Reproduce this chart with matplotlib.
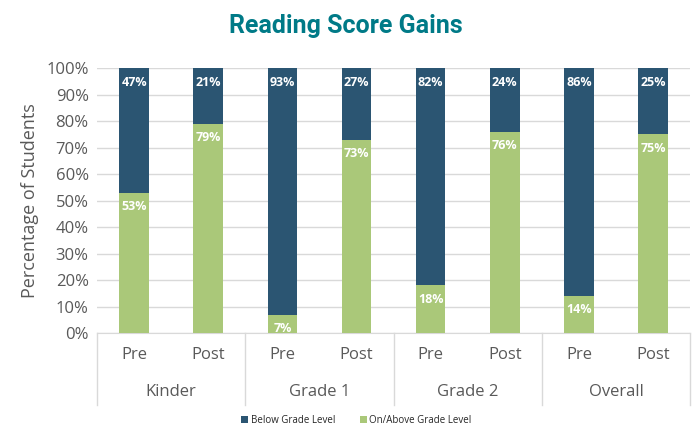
import matplotlib.pyplot as plt
import numpy as np

groups = ["Kinder", "Grade 1", "Grade 2", "Overall"]
phases = ["Pre", "Post"]
on_above = [53, 79, 7, 73, 18, 76, 14, 75]
below = [47, 21, 93, 27, 82, 24, 86, 25]

dark = "#2B5572"
green = "#AAC879"
grey_txt = "#595959"
grid_c = "#D9D9D9"

plt.rcParams["font.family"] = ["Open Sans", "DejaVu Sans"]

fig = plt.figure(figsize=(6.95, 4.26), dpi=100)
ax = fig.add_axes([0.1396, 0.218, 0.8534, 0.622])

x = np.arange(len(on_above))
w = 0.4
b1 = ax.bar(x, on_above, w, color=green, label="On/Above Grade Level", zorder=3)
b2 = ax.bar(x, below, w, bottom=on_above, color=dark, label="Below Grade Level", zorder=3)

# value labels sit just inside the top of each segment
for xi, g, b in zip(x, on_above, below):
    ax.text(xi, g - 2.8, f"{g}%", ha="center", va="top", color="white",
            fontsize=9, fontweight="bold", zorder=4)
    ax.text(xi, 100 - 2.8, f"{b}%", ha="center", va="top", color="white",
            fontsize=9, fontweight="bold", zorder=4)

ax.set_xlim(-0.5, len(x) - 0.5)
ax.set_ylim(0, 100)
ax.set_yticks(range(0, 101, 10))
ax.set_yticklabels([f"{v}%" for v in range(0, 101, 10)], color=grey_txt, fontsize=12)
ax.tick_params(axis="y", length=0, pad=6)
ax.set_xticks([])
ax.yaxis.grid(True, color=grid_c, linewidth=1, zorder=0)
for s in ["top", "right", "left"]:
    ax.spines[s].set_visible(False)
ax.spines["bottom"].set_color(grid_c)
ax.set_ylabel("Percentage of Students", color=grey_txt, fontsize=13, labelpad=5)

# two-level category axis
trans = ax.get_xaxis_transform()
for i, xi in enumerate(x):
    ax.text(xi, -0.083, phases[i % 2], transform=trans, ha="center", va="center",
            color=grey_txt, fontsize=12)
for j, g in enumerate(groups):
    ax.text(2 * j + 0.5, -0.223, g, transform=trans, ha="center", va="center",
            color=grey_txt, fontsize=12)
for k in range(len(groups) + 1):
    ax.plot([2 * k - 0.5, 2 * k - 0.5], [0, -0.272], transform=trans, color=grid_c,
            linewidth=1, clip_on=False)

handles = [b2, b1]
fig.legend(handles, [h.get_label() for h in handles], loc="center",
           bbox_to_anchor=(0.513, 0.014), ncol=2, frameon=False, fontsize=7,
           handlelength=0.7, handleheight=0.7, handletextpad=0.3, columnspacing=2.5,
           labelcolor="#262626")

fig.text(0.497, 0.938, "Reading Score Gains", ha="center", va="center",
         color="#007A87", fontsize=18, fontweight="bold", family=["Roboto", "DejaVu Sans"])

fig.savefig("out.png", dpi=100)
